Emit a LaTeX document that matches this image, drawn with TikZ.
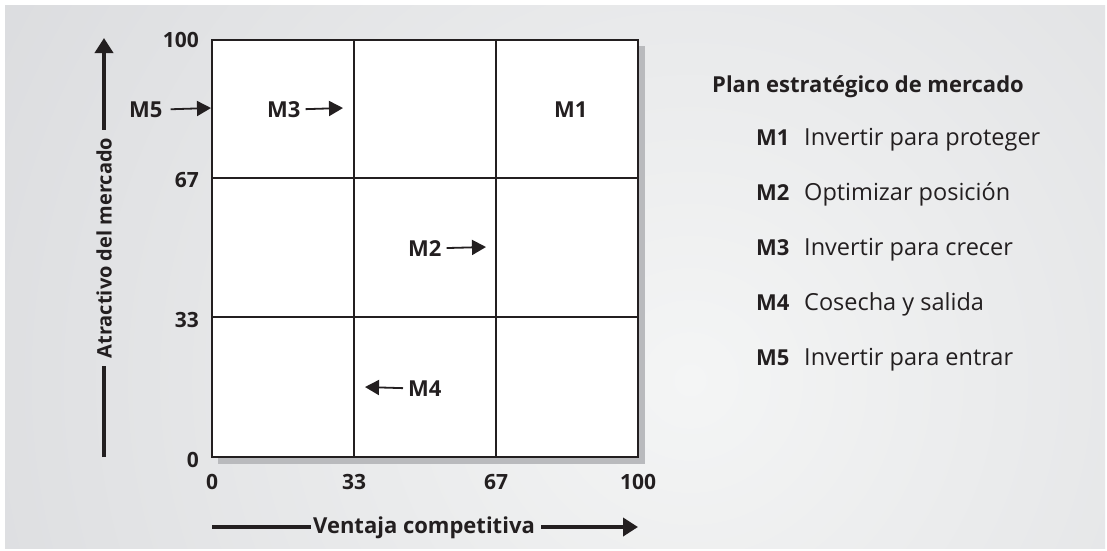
\documentclass[tikz,border=0pt]{standalone}
\usepackage{fontspec}
\setmainfont{Open Sans}
\usetikzlibrary{arrows.meta}
\definecolor{ink}{RGB}{35,31,32}
\definecolor{panel}{RGB}{216,217,220}
\definecolor{panellight}{RGB}{244,245,245}
\definecolor{shadowgray}{RGB}{185,186,189}
\begin{document}
\begin{tikzpicture}[x=1pt,y=-1pt,
  txt/.style={font=\fontsize{23.5}{26}\selectfont, text=ink, inner sep=0pt},
  btxt/.style={text=ink, inner sep=0pt, font=\fontsize{22}{26}\selectfont\bfseries},
  ticktxt/.style={btxt, font=\fontsize{21}{24}\selectfont\bfseries},
  gridline/.style={draw=ink, line width=1.8pt},
  smallarrow/.style={draw=ink, line width=1.8pt, -{Triangle[length=14pt,width=15pt]}},
  axisline/.style={draw=ink, line width=4.5pt},
  axisarrow/.style={draw=ink, line width=4.5pt, -{Triangle[length=15pt,width=18pt]}},
  axlabel/.style={btxt, inner sep=2pt}]
\useasboundingbox (0,0) rectangle (1107,550);
\fill[white] (0,0) rectangle (1107,550);
\begin{scope}
  \clip (5,5) rectangle (1105,548);
  \fill[panel] (5,5) rectangle (1105,548);
  \shade[inner color=panellight, outer color=panel] (690,380) circle (900);
\end{scope}
% shadow and grid
\fill[shadowgray] (218,46) rectangle (645,464);
\fill[white] (212,40) rectangle (638,457);
\draw[gridline] (354,40) -- (354,457);
\draw[gridline] (496,40) -- (496,457);
\draw[gridline] (212,178) -- (638,178);
\draw[gridline] (212,317) -- (638,317);
\draw[draw=ink, line width=2pt] (212,40) rectangle (638,457);
% tick labels
\node[ticktxt, anchor=base east] (y100) at (199,47) {100};
\node[ticktxt, anchor=base east] (y67) at (199,187) {67};
\node[ticktxt, anchor=base east] (y33) at (199,327) {33};
\node[ticktxt, anchor=base east] (y0) at (199,467) {0};
\node[ticktxt, anchor=base] (x0) at (212,489) {0};
\node[ticktxt, anchor=base] (x33) at (354,489) {33};
\node[ticktxt, anchor=base] (x67) at (496,489) {67};
\node[ticktxt, anchor=base] (x100) at (638,489) {100};
% axis labels
\node[axlabel, rotate=90, inner sep=8pt, font=\fontsize{20}{24}\selectfont\bfseries] (ylab) at (104,248) {Atractivo del mercado};
\coordinate (yb) at (104,457);
\coordinate (yt) at (104,38);
\draw[axisline] (yb) -- (yb |- ylab.west);
\draw[axisarrow] (yt |- ylab.east) -- (yt);
\node[axlabel, anchor=base] (xlab) at (424,533) {Ventaja competitiva};
\coordinate (xl) at (212,527);
\coordinate (xr) at (638,527);
\draw[axisline] (xl) -- (xlab.west |- xl);
\draw[axisarrow] ([xshift=4pt]xlab.east |- xr) -- (xr);
% grid markers
\node[btxt, anchor=base west] (m5) at (129,117) {M5};
\coordinate (m5t) at (211,108);
\draw[smallarrow] ([xshift=8pt]m5.east) -- (m5t);
\node[btxt, anchor=base west] (m3) at (267,117) {M3};
\coordinate (m3t) at (343,108);
\draw[smallarrow] ([xshift=5pt]m3.east) -- (m3t);
\node[btxt, anchor=base west] (m1) at (554,117) {M1};
\node[btxt, anchor=base west] (m2) at (408,256) {M2};
\coordinate (m2t) at (486,247);
\draw[smallarrow] ([xshift=5pt]m2.east) -- (m2t);
\node[btxt, anchor=base west] (m4) at (408,396) {M4};
\coordinate (m4t) at (365,387);
\draw[smallarrow] ([xshift=-5pt]m4.west) -- (m4t);
% legend
\node[btxt, anchor=base west] (ltitle) at (712,92) {Plan estratégico de mercado};
\node[btxt, anchor=base west] (l1) at (756,145) {M1};
\node[txt, anchor=base west] (d1) at (804,145) {Invertir para proteger};
\node[btxt, anchor=base west] (l2) at (756,200) {M2};
\node[txt, anchor=base west] (d2) at (804,200) {Optimizar posición};
\node[btxt, anchor=base west] (l3) at (756,255) {M3};
\node[txt, anchor=base west] (d3) at (804,255) {Invertir para crecer};
\node[btxt, anchor=base west] (l4) at (756,310) {M4};
\node[txt, anchor=base west] (d4) at (804,310) {Cosecha y salida};
\node[btxt, anchor=base west] (l5) at (756,365) {M5};
\node[txt, anchor=base west] (d5) at (804,365) {Invertir para entrar};
\end{tikzpicture}
\end{document}
